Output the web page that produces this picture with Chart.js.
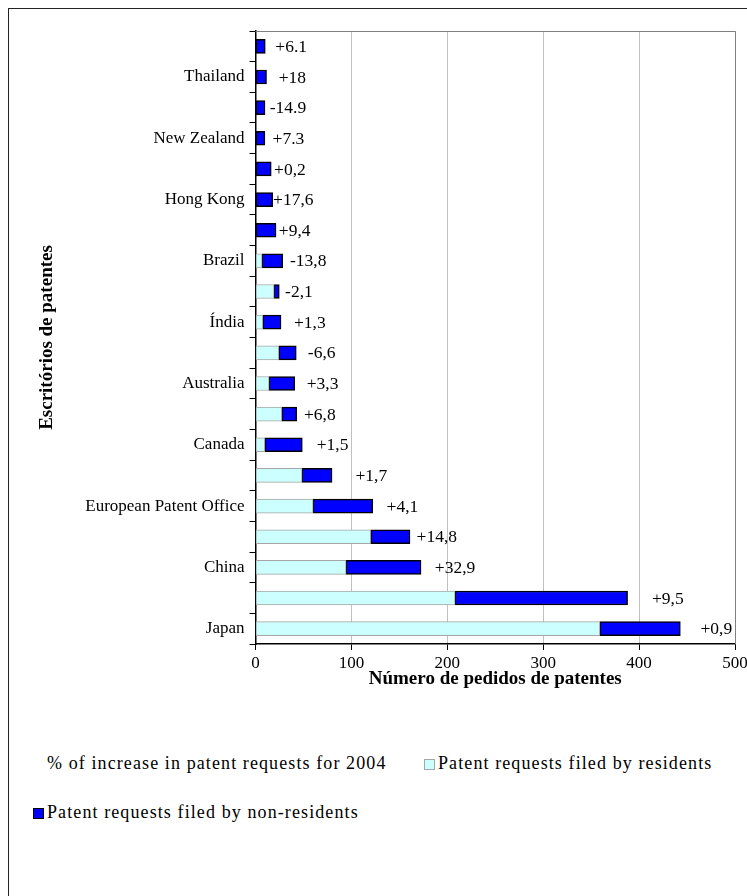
<!DOCTYPE html>
<html>
<head>
<meta charset="utf-8">
<script src="https://cdn.jsdelivr.net/npm/chart.js@4"></script>
<style>
body { margin: 0; background: #fff; font-family: "Liberation Serif", "Times New Roman", serif; }
#frame { position: absolute; left: 8px; top: 8px; width: 900px; height: 1000px; border: 1px solid #222; }
#wrap { position: absolute; left: 0; top: 0; width: 747px; height: 700px; }
.leg { position: absolute; font-size: 18px; letter-spacing: 1.1px; color: #000; white-space: nowrap; line-height: 20px; }
.leg span.box { display: inline-block; width: 11px; height: 11px; box-sizing: border-box; vertical-align: -1px; margin-right: 3px; }
</style>
</head>
<body>
<div id="frame"></div>
<div id="wrap"><canvas id="chart"></canvas></div>
<div id="legend"></div>
<script>
// categories, top to bottom (only every other office is named on the axis)
var offices = ['', 'Thailand', '', 'New Zealand', '', 'Hong Kong', '', 'Brazil', '', 'Índia',
	'', 'Australia', '', 'Canada', '', 'European Patent Office', '', 'China', '', 'Japan'];

// thousands of patent requests
var residents    = [0, 0, 0, 0, 0, 0, 0, 6.8, 19.3, 7.5, 24.2, 14.1, 27.3, 9.6, 48.5, 60, 120, 94.4, 208, 359];
var nonResidents = [10.2, 11.5, 9.9, 9.8, 16.4, 17.9, 21.4, 21.6, 5.5, 19.1, 18.3, 26.8, 15.7, 39.2, 31.3, 62.2, 41.1, 78.2, 180, 84];

// % of increase in 2004 (drawn as labels on an invisible stacked series)
var increase = ['+6.1', '+18', '-14.9', '+7.3', '+0,2', '+17,6', '+9,4', '-13,8', '-2,1', '+1,3',
	'-6,6', '+3,3', '+6,8', '+1,5', '+1,7', '+4,1', '+14,8', '+32,9', '+9,5', '+0,9'];
var increaseSpacer = [54, 54, 48, 49, 39, 43, 39, 53, 41, 60, 53, 58, 48, 63, 82, 62, 56, 71, 84, 75];

var xTicks = [0, 100, 200, 300, 400, 500];

var serif = '"Liberation Serif", "Times New Roman", serif';

var pctLabels = {
	id: 'pctLabels',
	afterDatasetsDraw: function(chart) {
		var ctx = chart.ctx;
		var meta = chart.getDatasetMeta(2);
		ctx.save();
		ctx.font = '17.5px ' + serif;
		ctx.fillStyle = '#000';
		ctx.textAlign = 'center';
		ctx.textBaseline = 'middle';
		meta.data.forEach(function(bar, i) {
			var p = bar.getProps(['x', 'y', 'base'], true);
			ctx.fillText(increase[i], (p.x + p.base) / 2, p.y + 1);
		});
		ctx.restore();
	}
};

var plotBorder = {
	id: 'plotBorder',
	afterDraw: function(chart) {
		var a = chart.chartArea;
		var ctx = chart.ctx;
		ctx.save();
		ctx.strokeStyle = '#808080';
		ctx.lineWidth = 1;
		ctx.beginPath();
		ctx.moveTo(a.left, a.top + 0.5);
		ctx.lineTo(a.right + 0.5, a.top + 0.5);
		ctx.lineTo(a.right + 0.5, a.bottom);
		ctx.stroke();
		ctx.restore();
	}
};

var datasets = [
	{
		label: 'Patent requests filed by residents',
		data: residents,
		backgroundColor: '#ccffff',
		borderColor: '#a6a6a6',
		borderWidth: 1,
		borderSkipped: false
	},
	{
		label: 'Patent requests filed by non-residents',
		data: nonResidents,
		backgroundColor: '#0000ff',
		borderColor: '#000',
		borderWidth: 1.5,
		borderSkipped: false
	},
	{
		label: '% of increase in patent requests for 2004',
		data: increaseSpacer,
		backgroundColor: 'rgba(0,0,0,0)',
		borderWidth: 0
	}
];

var ctx = document.getElementById('chart').getContext('2d');
var chart = new Chart(ctx, {
	type: 'bar',
	data: { labels: offices, datasets: datasets },
	plugins: [pctLabels, plotBorder],
	options: {
		indexAxis: 'y',
		responsive: true,
		maintainAspectRatio: false,
		animation: false,
		datasets: { bar: { barThickness: 14 } },
		layout: { padding: { left: 35.6, right: 12, top: 31, bottom: 9.6 } },
		plugins: { legend: { display: false }, tooltip: { enabled: false } },
		scales: {
			x: {
				stacked: true,
				min: 0, max: 500,
				afterBuildTicks: function(scale) { scale.ticks = xTicks.map(function(v) { return { value: v }; }); },
				afterFit: function(scale) {
					scale.height = 46.4;
					scale.paddingLeft = 0;
					scale.paddingRight = 0;
				},
				grid: { color: '#c0c0c0', tickColor: '#000', tickLength: 6 },
				border: { color: '#000', width: 1.5 },
				ticks: { color: '#000', padding: 3, font: { family: serif, size: 17 } },
				title: {
					display: true,
					text: 'Número de pedidos de patentes',
					color: '#000',
					padding: 0,
					font: { family: serif, size: 19, weight: 'bold' }
				}
			},
			y: {
				stacked: true,
				afterFit: function(scale) {
					scale.width = 219.9;
					scale.paddingTop = 0;
					scale.paddingBottom = 0;
				},
				grid: { drawOnChartArea: false, tickColor: '#000', tickLength: 6 },
				border: { color: '#000', width: 1.5 },
				ticks: { color: '#000', autoSkip: false, padding: 5, font: { family: serif, size: 17 } },
				title: {
					display: true,
					text: 'Escritórios de patentes',
					color: '#000',
					padding: 0,
					font: { family: serif, size: 19, weight: 'bold' }
				}
			}
		}
	}
});

// legend laid out like the original spreadsheet one
function build_legend(chart) {
	var spots = [[424, 753], [33, 802], [33, 753]];
	var html = '';
	chart.data.datasets.forEach(function(ds, i) {
		var bc = i == 0 ? '#a6a6a6' : (i == 1 ? '#000' : 'transparent');
		html += '<div class="leg" style="left:' + spots[i][0] + 'px;top:' + spots[i][1] + 'px">' +
			'<span class="box" style="background:' + ds.backgroundColor + ';border:1px solid ' + bc + '"></span>' +
			ds.label + '</div>';
	});
	document.getElementById('legend').innerHTML = html;
}
build_legend(chart);
</script>
</body>
</html>
